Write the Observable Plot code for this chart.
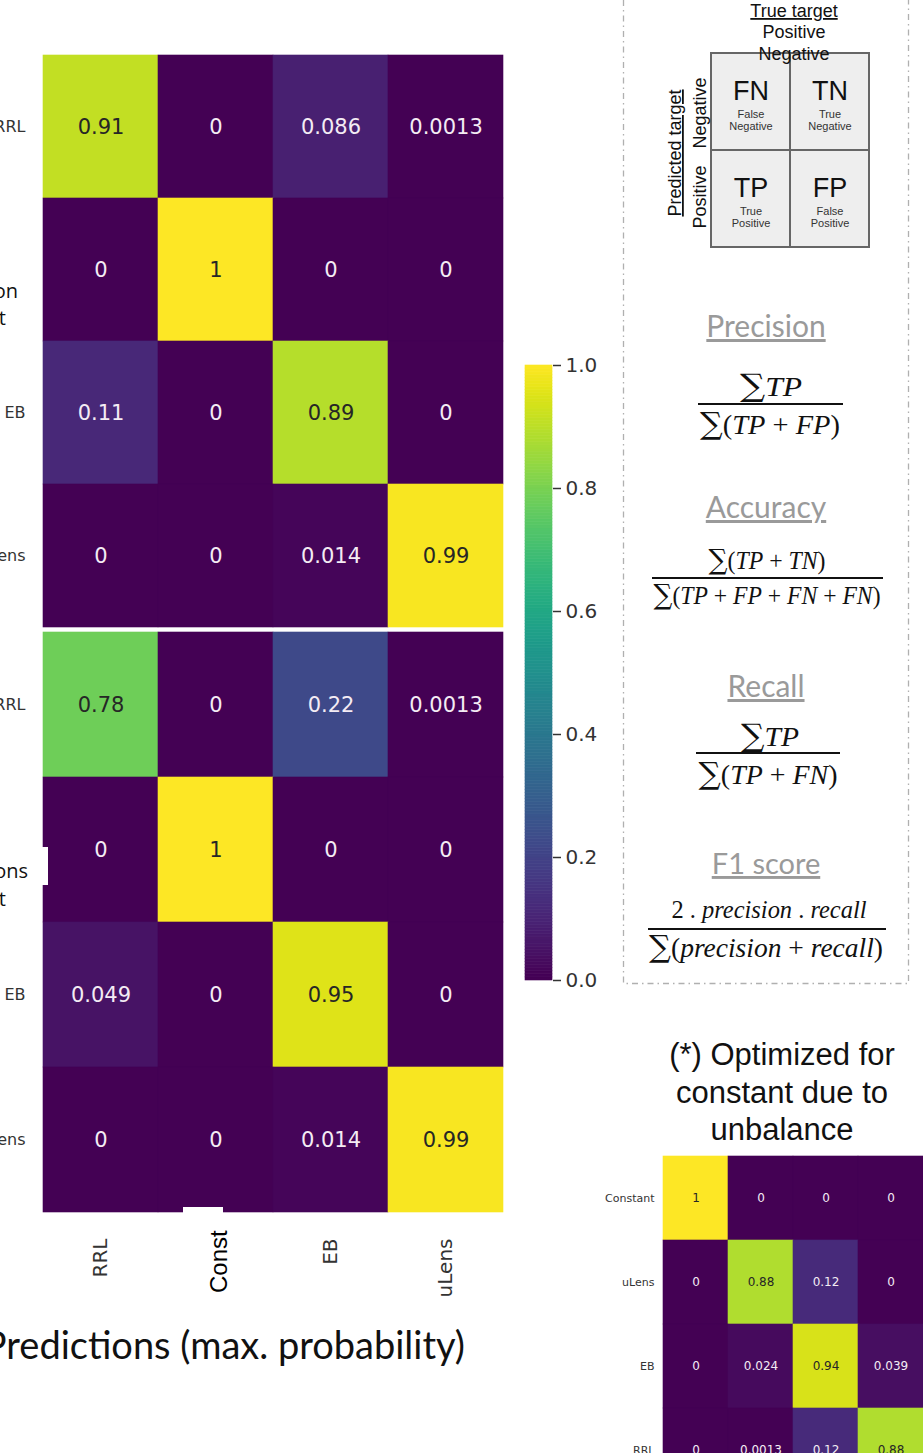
<!DOCTYPE html>
<html>
<head>
<meta charset="utf-8">
<script src="https://cdn.jsdelivr.net/npm/d3@7"></script>
<script src="https://cdn.jsdelivr.net/npm/@observablehq/plot@0.6"></script>
<style>
  html, body { margin: 0; padding: 0; background: #fff; }
  #page { position: relative; width: 923px; height: 1453px; overflow: hidden; background: #fff; }
  #page .slot { position: absolute; }
  #page .slot svg { display: block; max-width: none; }
</style>
</head>
<body>
<div id="page"></div>
<script>
// ---------------- data ----------------
const classes = ["RRL", "Const", "EB", "uLens"];
const matrixTop = [
  [0.91, 0, 0.086, 0.0013],
  [0, 1, 0, 0],
  [0.11, 0, 0.89, 0],
  [0, 0, 0.014, 0.99]
];
const matrixBottom = [
  [0.78, 0, 0.22, 0.0013],
  [0, 1, 0, 0],
  [0.049, 0, 0.95, 0],
  [0, 0, 0.014, 0.99]
];
const insetClasses = ["Constant", "uLens", "EB", "RRL"];
const matrixInset = [
  [1, 0, 0, 0],
  [0, 0.88, 0.12, 0],
  [0, 0.024, 0.94, 0.039],
  [0, 0.0013, 0.12, 0.88]
];
const colorbarTicks = [0, 0.2, 0.4, 0.6, 0.8, 1.0];
const cmTrueAxis = ["Positive", "Negative"];
const cmPredAxis = ["Negative", "Positive"];
const cmAbbr = ["FN", "TN", "TP", "FP"];
const cmNames = ["False\nNegative", "True\nNegative", "True\nPositive", "False\nPositive"];

// ---------------- helpers ----------------
const fmt = d3.format(".2~g");
const page = document.getElementById("page");
function place(node, left, top, width) {
  const d = document.createElement("div");
  d.className = "slot";
  d.style.left = left + "px";
  d.style.top = top + "px";
  if (width) d.style.width = width + "px";
  d.appendChild(node);
  page.appendChild(d);
  return d;
}
function toCells(matrix, labels) {
  return matrix.flatMap((row, i) => row.map((v, j) => ({row: labels[i], col: labels[j], v})));
}
const viridis = {type: "linear", scheme: "viridis", domain: [0, 1]};

function heatmap(cells, rows, cols, o) {
  const marks = [
    Plot.cell(cells, {x: "col", y: "row", fill: "v", stroke: "v", strokeWidth: 0.6, inset: 0}),
    Plot.text(cells, {filter: d => d.v > 0.5, x: "col", y: "row", text: d => fmt(d.v), fill: "#262626", fontSize: o.fontSize}),
    Plot.text(cells, {filter: d => d.v <= 0.5, x: "col", y: "row", text: d => fmt(d.v), fill: "#f4ecf4", fontSize: o.fontSize}),
    Plot.axisY({tickSize: 0, tickPadding: o.tickPadding, fontSize: o.labelSize, tickFormat: o.yFormat, label: null})
  ];
  if (o.xAxis) marks.push(Plot.axisX({anchor: "bottom", tickRotate: -90, tickSize: 0, tickPadding: 25, fontSize: 20, label: null, tickFormat: o.xFormat}));
  return Plot.plot({
    width: o.width, height: o.height,
    marginLeft: o.marginLeft, marginRight: 0, marginTop: 0, marginBottom: o.marginBottom || 0,
    style: {fontFamily: "DejaVu Sans", color: "#333", background: "transparent", overflow: o.overflow || "visible"},
    x: o.xAxis ? {domain: cols, padding: 0} : {domain: cols, padding: 0, axis: null},
    y: {domain: rows, padding: 0},
    color: viridis,
    marks
  });
}

// ---------------- main heatmaps ----------------
const hideConst = d => d === "Const" ? "" : d;
place(heatmap(toCells(matrixTop, classes), classes, classes, {
  width: 534, height: 572, marginLeft: 72, fontSize: 21, labelSize: 16, tickPadding: 17, yFormat: hideConst
}), -30, 55, 534);

place(heatmap(toCells(matrixBottom, classes), classes, classes, {
  width: 534, height: 667, marginLeft: 72, marginBottom: 84, fontSize: 21, labelSize: 16, tickPadding: 17,
  yFormat: hideConst, xAxis: true, xFormat: hideConst, overflow: "hidden"
}), -30, 630, 534);

// ---------------- colorbar ----------------
const rampStops = d3.range(0, 1, 0.005);
place(Plot.plot({
  width: 87, height: 655, marginLeft: 0, marginRight: 60, marginTop: 20, marginBottom: 20,
  style: {fontFamily: "DejaVu Sans", color: "#333", background: "transparent", overflow: "visible"},
  x: {domain: [0, 1], axis: null},
  y: {domain: [0, 1]},
  color: viridis,
  marks: [
    Plot.rect(rampStops, {x1: 0, x2: 1, y1: d => d, y2: d => Math.min(1, d + 0.005), fill: d => d, stroke: d => d, strokeWidth: 0.6, inset: 0}),
    Plot.axisY({anchor: "right", ticks: colorbarTicks, tickSize: 8, tickPadding: 5, fontSize: 20, strokeWidth: 1.5, tickFormat: d3.format(".1f"), label: null})
  ]
}), 525, 345, 87);

// ---------------- inset heatmap ----------------
place(heatmap(toCells(matrixInset, insetClasses), insetClasses, insetClasses, {
  width: 333, height: 336, marginLeft: 73, fontSize: 12, labelSize: 11, tickPadding: 9, yFormat: d => d
}), 590, 1156, 333);

// ---------------- confusion-matrix schematic ----------------
const cmData = cmAbbr.map((a, i) => ({x: cmTrueAxis[i % 2], y: cmPredAxis[Math.floor(i / 2)], abbr: a, name: cmNames[i]}));
place(Plot.plot({
  width: 163, height: 199, margin: 2,
  style: {fontFamily: "Liberation Sans", color: "#222", background: "transparent", overflow: "visible"},
  x: {domain: cmTrueAxis, padding: 0, axis: null},
  y: {domain: cmPredAxis, padding: 0, axis: null},
  marks: [
    Plot.cell(cmData, {x: "x", y: "y", fill: "#eeeeee", stroke: "#666", strokeWidth: 2, inset: 0}),
    Plot.text(cmData, {x: "x", y: "y", text: "abbr", fontSize: 27, dy: -11, fill: "#111"}),
    Plot.text(cmData, {x: "x", y: "y", text: "name", fontSize: 11, lineHeight: 1.1, dy: 18, fill: "#333"})
  ]
}), 708, 50, 163);

// ---------------- annotations ----------------
function mathText(x, y, str, size, len) {
  const parts = str.split(/([A-Za-z]+|\u2211)/).filter(s => s !== "");
  const ts = parts.map(p =>
    p === "\u2211" ? `<tspan font-family="DejaVu Serif" font-size="1.12em">\u2211</tspan>` :
    /^[A-Za-z]+$/.test(p) ? `<tspan font-style="italic">${p}</tspan>` : `<tspan>${p}</tspan>`).join("");
  return `<text x="${x}" y="${y}" text-anchor="middle" font-family="Liberation Serif, DejaVu Serif, serif" font-size="${size}" fill="#111"${len ? ` textLength="${len}" lengthAdjust="spacingAndGlyphs"` : ""}>${ts}</text>`;
}
function bar(x1, x2, y) {
  return `<line x1="${x1}" x2="${x2}" y1="${y}" y2="${y}" stroke="#111" stroke-width="1.8"/>`;
}
function title(text, y, size) {
  return `<text x="766" y="${y}" text-anchor="middle" font-family="Lato" font-size="${size || 30}" fill="#9a9a9a" text-decoration="underline">${text}</text>`;
}
const sp = "\u2005";
const overlay = `
<svg xmlns="http://www.w3.org/2000/svg" width="923" height="1453" style="position:absolute;left:0;top:0;pointer-events:none" font-family="Liberation Sans, Arial, sans-serif">
  <text x="18" y="298" text-anchor="end" font-family="Open Sans" font-size="20" fill="#111">on</text>
  <text x="6" y="325" text-anchor="end" font-family="Open Sans" font-size="20" fill="#111">t</text>
  <rect x="0" y="847" width="48" height="38" fill="#fff"/>
  <text x="28" y="878" text-anchor="end" font-family="Open Sans" font-size="20" fill="#111">ons</text>
  <text x="6" y="906" text-anchor="end" font-family="Open Sans" font-size="20" fill="#111">t</text>
  <rect x="183" y="1207" width="40" height="90" fill="#fff"/>
  <text transform="translate(227,1293) rotate(-90)" font-size="24" fill="#000">Const</text>
  <text x="465" y="1359" text-anchor="end" font-family="Lato" font-size="38" fill="#111">Predictions (max. probability)</text>

  <path d="M623.5,0 V983.5 H908.5 V0" fill="none" stroke="#b0b0b0" stroke-width="1.3" stroke-dasharray="6 4 1.5 4"/>

  <text x="794" y="17" text-anchor="middle" font-size="18" fill="#111" text-decoration="underline">True target</text>
  <text x="794" y="38" text-anchor="middle" font-size="18" fill="#111">Positive</text>
  <text x="794" y="60" text-anchor="middle" font-size="18" fill="#111">Negative</text>
  <text transform="translate(681,153) rotate(-90)" text-anchor="middle" font-size="18" fill="#111" text-decoration="underline">Predicted target</text>
  <text transform="translate(706,113) rotate(-90)" text-anchor="middle" font-size="18" fill="#111">Negative</text>
  <text transform="translate(706,197) rotate(-90)" text-anchor="middle" font-size="18" fill="#111">Positive</text>

  ${title("Precision", 337)}
  ${mathText(771, 396, "\u2211TP", 28, 62)}
  ${bar(698, 843, 404)}
  ${mathText(770, 434, "\u2211(TP" + sp + "+" + sp + "FP)", 27, 140)}

  ${title("Accuracy", 518)}
  ${mathText(767, 569, "\u2211(TP" + sp + "+" + sp + "TN)", 25, 117)}
  ${bar(652, 883, 578)}
  ${mathText(767, 604, "\u2211(TP" + sp + "+" + sp + "FP" + sp + "+" + sp + "FN" + sp + "+" + sp + "FN)", 25, 227)}

  ${title("Recall", 697)}
  ${mathText(770, 746, "\u2211TP", 28, 58)}
  ${bar(696, 840, 753)}
  ${mathText(768, 784, "\u2211(TP" + sp + "+" + sp + "FN)", 27, 139)}

  ${title("F1 score", 874, 29)}
  ${mathText(769, 918, "2" + sp + "." + sp + "precision" + sp + "." + sp + "recall", 25, 195)}
  ${bar(648, 886, 929)}
  ${mathText(766, 957, "\u2211(precision" + sp + "+" + sp + "recall)", 27, 234)}

  <text x="782" y="1065" text-anchor="middle" font-size="31" fill="#111">(*) Optimized for</text>
  <text x="782" y="1103" text-anchor="middle" font-size="31" fill="#111">constant due to</text>
  <text x="782" y="1140" text-anchor="middle" font-size="31" fill="#111">unbalance</text>
</svg>`;
page.insertAdjacentHTML("beforeend", overlay);
</script>
</body>
</html>
